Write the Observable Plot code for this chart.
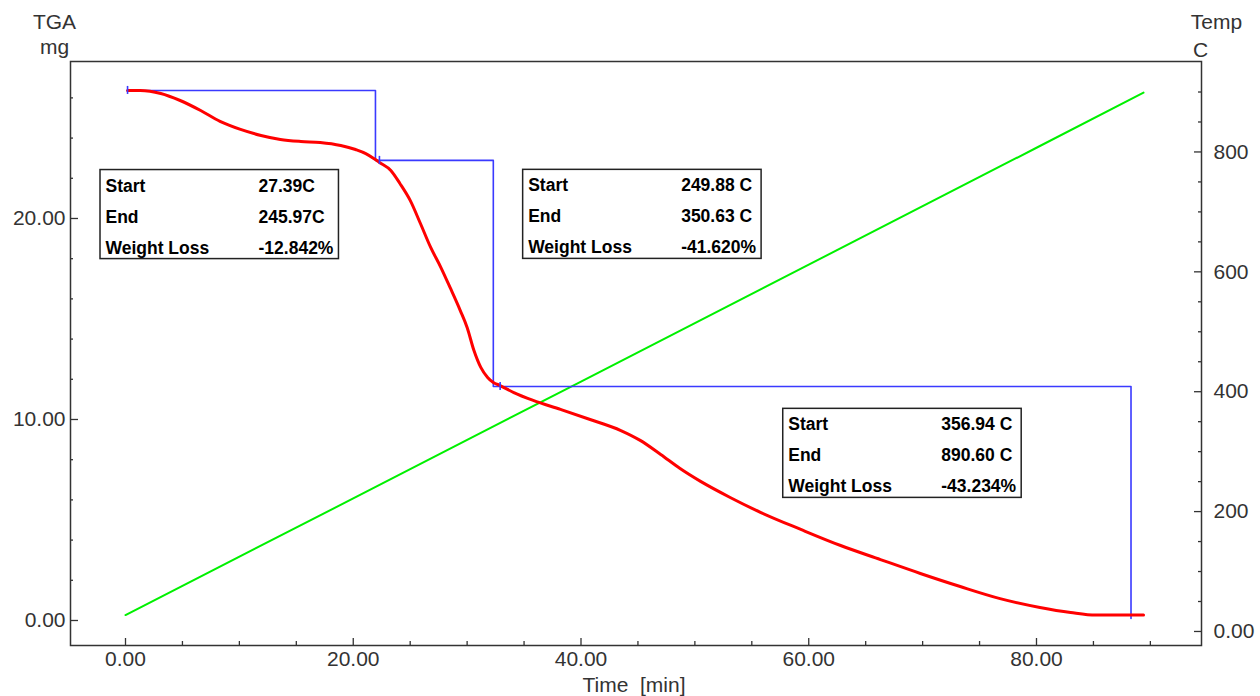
<!DOCTYPE html>
<html>
<head>
<meta charset="utf-8">
<script src="https://cdn.jsdelivr.net/npm/d3@7"></script>
<script src="https://cdn.jsdelivr.net/npm/@observablehq/plot@0.6"></script>
<style>
  html, body { margin: 0; padding: 0; background: #fff; overflow: hidden; }
  #chart svg { display: block; }
</style>
</head>
<body>
<div id="chart"></div>
<script>
// TGA sample mass (mg) against time (min)
const tgaTime = [0.18, 1.3, 3.1, 4.8, 6.6, 8.3, 10.1, 11.9, 13.6, 15.4, 17.1, 18.9, 20.2, 21.1, 21.8, 22.3,
  23.3, 24.1, 25.0, 25.9, 26.8, 27.7, 28.5, 29.4, 30.0, 30.6, 31.2, 31.8, 32.3, 32.9, 34.1, 35.8, 38.2,
  40.8, 43.5, 45.2, 47.0, 48.7, 50.5, 53.1, 55.8, 59.3, 62.8, 66.3, 69.8, 73.3, 76.8, 80.3, 83.0, 85.2,
  87.4, 89.4];
const tgaMass = [26.37, 26.37, 26.22, 25.87, 25.37, 24.83, 24.43, 24.13, 23.93, 23.83, 23.78, 23.63, 23.43,
  23.23, 22.99, 22.79, 22.39, 21.74, 20.90, 19.75, 18.56, 17.56, 16.57, 15.42, 14.58, 13.43, 12.59, 12.09,
  11.84, 11.69, 11.34, 10.95, 10.50, 10.00, 9.45, 8.96, 8.26, 7.56, 6.92, 6.12, 5.37, 4.53, 3.73, 3.03,
  2.34, 1.69, 1.09, 0.65, 0.40, 0.27, 0.27, 0.27];

// Furnace temperature (C) against time (min)
const tempTime = [0, 20, 40, 60, 80, 89.4];
const tempValue = [27.4, 222, 417, 612, 807, 899];

// Step analysis trace (time, mg) and the onset markers
const stepTime = [0.18, 21.95, 21.95, 32.3, 32.3, 88.3, 88.3];
const stepMass = [26.37, 26.37, 22.89, 22.89, 11.64, 11.64, 0.1];
const onsetTime = [0.18, 22.3, 32.9];
const onsetMass = [26.37, 22.89, 11.64];

// Result tables, one per step
const rowLabels = ["Start", "End", "Weight Loss"];
const startTemps = ["27.39C", "249.88 C", "356.94 C"];
const endTemps = ["245.97C", "350.63 C", "890.60 C"];
const weightLoss = ["-12.842%", "-41.620%", "-43.234%"];

// Axis ticks and labels
const timeTicks = [0, 20, 40, 60, 80];
const timeTickLabels = ["0.00", "20.00", "40.00", "60.00", "80.00"];
const massTicks = [0, 10, 20];
const massTickLabels = ["0.00", "10.00", "20.00"];
const tempTicks = [0, 200, 400, 600, 800];
const tempTickLabels = ["0.00", "200", "400", "600", "800"];

// ---- layout ----
const xDomain = [-4.83, 94.49];
const yDomain = [-1.244, 27.81];
const tempDomain = [-23.4, 950.9];
const tempToMass = d3.scaleLinear(tempDomain, yDomain);

// table boxes: top-left corner in (min, mg), size in (min, mg)
const boxLeft = [-2.195, 34.92, 57.76];
const boxTop = [22.41, 22.42, 10.53];
const boxW = 20.94, boxH = 4.43;

const timeMinor = d3.range(0, 91, 5).filter(d => d % 20 !== 0);
const massMinor = d3.range(0, 27, 2).filter(d => d % 10 !== 0);
const tempMinor = d3.range(0, 901, 50).filter(d => d % 200 !== 0);

const tga = tgaTime.map((t, i) => ({t, mg: tgaMass[i]}));
const temp = tempTime.map((t, i) => ({t, mg: tempToMass(tempValue[i])}));
const step = stepTime.map((t, i) => ({t, mg: stepMass[i]}));
const onset = onsetTime.map((t, i) => ({t, mg: onsetMass[i]}));
const boxes = boxLeft.map((left, i) => ({left, top: boxTop[i], i}));
const tableValues = [startTemps, endTemps, weightLoss];

const timeLabel = new Map(timeTicks.map((d, i) => [d, timeTickLabels[i]]));
const massLabel = new Map(massTicks.map((d, i) => [d, massTickLabels[i]]));
const tempTickMass = tempTicks.map(d => tempToMass(d));
const tempLabel = new Map(tempTickMass.map((d, i) => [d, tempTickLabels[i]]));

const axisColor = "#333";
const tableFont = {fontSize: 17.5, fontWeight: "bold", fill: "#000", textAnchor: "start"};
const titleFont = {fontSize: 21, fill: axisColor, textAnchor: "middle", lineAnchor: "middle"};

const tableMarks = [];
rowLabels.forEach((label, j) => {
  tableMarks.push(Plot.text(boxes, {x: "left", y: "top", text: () => label, dx: 5, dy: 16 + 31 * j, ...tableFont}));
  tableMarks.push(Plot.text(boxes, {x: "left", y: "top", text: d => tableValues[j][d.i], dx: 158, dy: 16 + 31 * j, ...tableFont}));
});

const chart = Plot.plot({
  width: 1260,
  height: 696,
  marginLeft: 70,
  marginRight: 59,
  marginTop: 61,
  marginBottom: 51,
  x: {domain: xDomain},
  y: {domain: yDomain},
  style: {fontFamily: "'Liberation Sans', Arial, sans-serif", fontSize: "21px", color: axisColor, background: "#fff"},
  marks: [
    // temperature trace
    Plot.line(temp, {x: "t", y: "mg", stroke: "#00f000", strokeWidth: 2}),
    // step analysis
    Plot.line(step, {x: "t", y: "mg", stroke: "#3a3aff", strokeWidth: 1.6}),
    // TGA curve
    Plot.line(tga, {x: "t", y: "mg", stroke: "#ff0000", strokeWidth: 3, curve: "monotone-x"}),
    Plot.ruleX(onset, {x: "t", y1: d => d.mg - 0.2, y2: d => d.mg + 0.2, stroke: "#3a3aff", strokeWidth: 1.6}),

    // result tables
    Plot.rect(boxes, {x1: "left", x2: d => d.left + boxW, y1: "top", y2: d => d.top - boxH, fill: "#fff", stroke: "#222", strokeWidth: 1.5}),
    ...tableMarks,

    // time axis
    Plot.axisX(timeTicks, {tickSize: -7, fill: "none", stroke: axisColor, strokeWidth: 1.3, label: null}),
    Plot.axisX(timeMinor, {tickSize: -4, fill: "none", stroke: axisColor, strokeWidth: 1.3, label: null}),
    Plot.axisX(timeTicks, {tickSize: 0, tickPadding: 6, tickFormat: d => timeLabel.get(d), fill: axisColor, fontSize: 21, label: null}),

    // mass axis (left)
    Plot.axisY(massTicks, {anchor: "left", tickSize: -8, fill: "none", stroke: axisColor, strokeWidth: 1.3, label: null}),
    Plot.axisY(massMinor, {anchor: "left", tickSize: -3, fill: "none", stroke: axisColor, strokeWidth: 1.3, label: null}),
    Plot.axisY(massTicks, {anchor: "left", tickSize: 0, tickPadding: 5, tickFormat: d => massLabel.get(d), fill: axisColor, fontSize: 21, label: null}),

    // temperature axis (right)
    Plot.axisY(tempTickMass, {anchor: "right", tickSize: -8, fill: "none", stroke: axisColor, strokeWidth: 1.3, label: null}),
    Plot.axisY(tempMinor.map(d => tempToMass(d)), {anchor: "right", tickSize: -4, fill: "none", stroke: axisColor, strokeWidth: 1.3, label: null}),
    Plot.axisY(tempTickMass, {anchor: "right", tickSize: 0, tickPadding: 12, tickFormat: d => tempLabel.get(d), fill: axisColor, fontSize: 21, label: null}),

    Plot.frame({stroke: axisColor, strokeWidth: 1.5}),

    // axis titles
    Plot.text(["TGA"], {frameAnchor: "top-left", text: d => d, dx: -16, dy: -39, ...titleFont}),
    Plot.text(["mg"], {frameAnchor: "top-left", text: d => d, dx: -16, dy: -14, ...titleFont}),
    Plot.text(["Temp"], {frameAnchor: "top-right", text: d => d, dx: 15, dy: -39, ...titleFont}),
    Plot.text(["C"], {frameAnchor: "top-right", text: d => d, dx: -1, dy: -11, ...titleFont}),
    Plot.text(["Time  [min]"], {frameAnchor: "bottom", text: d => d, dx: -2, dy: 40, ...titleFont, style: "white-space: pre"})
  ]
});

document.getElementById("chart").appendChild(chart);
</script>
</body>
</html>
